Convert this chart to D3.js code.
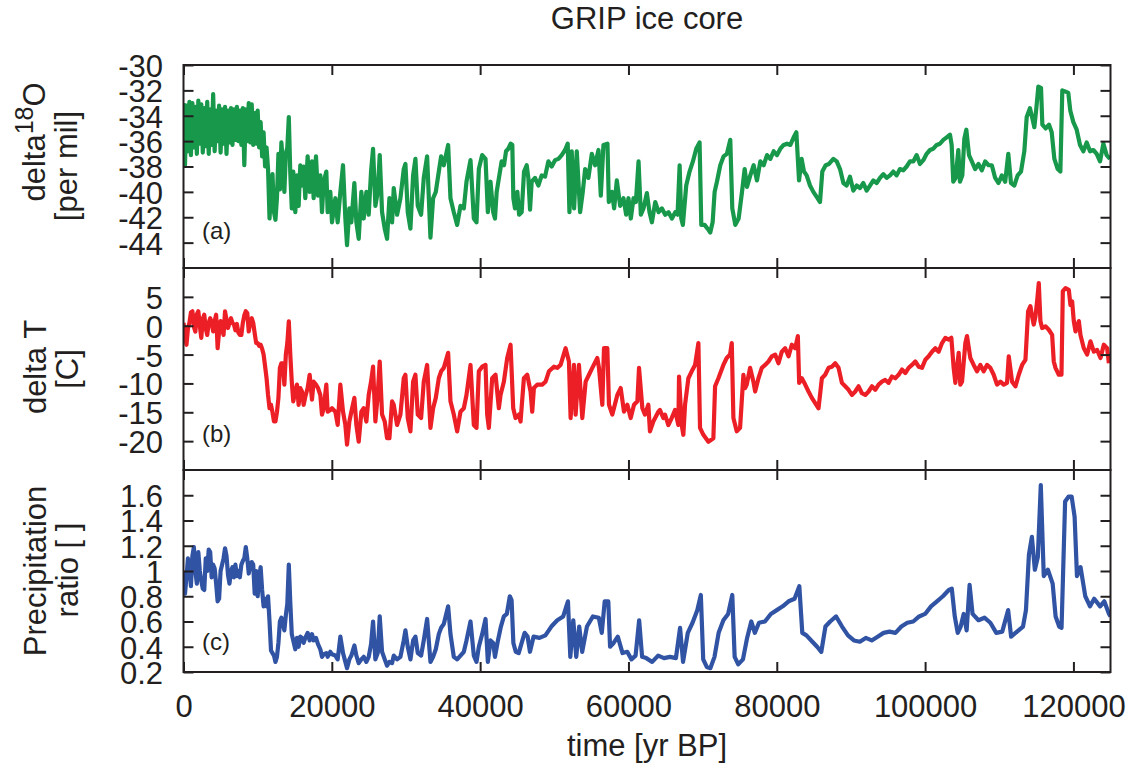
<!DOCTYPE html>
<html>
<head>
<meta charset="utf-8">
<title>GRIP ice core</title>
<script src="https://cdn.jsdelivr.net/npm/d3@7"></script>
<style>
  body { margin: 0; background: #ffffff; }
  text { font-family: "Liberation Sans", Arial, Helvetica, sans-serif; fill: #231f20; }
</style>
</head>
<body>
<svg id="chart" width="1134" height="776"></svg>
<script>
// ---------------- data ----------------
// Tick values
const xTicks = [0, 20000, 40000, 60000, 80000, 100000, 120000];
const ticksO = [-30, -32, -34, -36, -38, -40, -42, -44];
const ticksT = [5, 0, -5, -10, -15, -20];
const ticksP = [1.6, 1.4, 1.2, 1, 0.8, 0.6, 0.4, 0.2];

// Panel (a): delta 18O [per mil] vs age [yr BP]
const ageO = [
  0,200,400,600,800,1000,1200,1400,1600,1800,
  2000,2200,2400,2600,2800,3000,3200,3400,3600,3800,
  4000,4200,4400,4600,4800,5000,5200,5400,5600,5800,
  6000,6200,6400,6600,6800,7000,7200,7400,7600,7800,
  8000,8200,8400,8600,8800,9000,9200,9400,9600,9800,
  10000,10200,10400,10600,10800,11000,11200,11400,11600,11800,
  12000,12200,12400,12600,12800,13000,13200,13400,13600,13800,
  14000,14200,14400,14600,14800,
  15075,15300,15525,15750,15975,16200,16425,16740,17010,17325,
  17550,17865,18135,18450,18675,18900,19260,19440,19800,20025,
  20475,20790,21150,21510,21825,22050,22365,22635,23040,23310,
  23625,23985,24300,24660,24975,25290,25560,25875,26190,26460,
  26775,27135,27450,27765,28125,28350,28800,29250,29700,29925,
  30240,30600,30960,31275,31590,32040,32400,32850,33300,33660,
  34020,34425,34740,35100,35685,36000,36450,36900,37350,37800,
  38160,38700,39150,39510,39825,40275,40725,41040,41400,41760,
  42000,42230,42590,42900,43220,43490,43800,44120,44340,44480,
  44700,45020,45250,45600,45920,46280,46500,46730,46950,47400,
  47850,48300,48750,49200,49650,50100,50560,51000,51450,51810,
  52040,52350,52670,53030,53480,53840,54160,54600,55060,55500,
  55960,56270,56630,57170,57350,57760,58070,58430,58880,59330,
  59690,60000,60320,60680,61000,61360,61670,62030,62480,62840,
  63160,63610,64060,64500,64960,65410,65860,66310,66620,66900,
  67120,67340,67790,68240,68690,69140,69590,69820,70270,70670,
  71030,71350,71620,71930,72380,72830,73280,73730,74000,74410,
  74860,75310,75670,75980,76430,76880,77330,77780,78230,78680,
  79130,79580,80030,80480,80930,81380,81830,82280,82640,83000,
  83350,83670,84030,84480,84930,85380,85830,86140,86590,87040,
  87630,88080,88530,88980,89420,89870,90320,90770,91220,91670,
  92120,92570,93020,93470,93920,94370,94820,95270,95710,96160,
  96610,97060,97510,97960,98410,98860,99310,99760,100210,100660,
  101110,101560,102010,102460,102910,103360,103580,103800,104120,104480,
  104700,105020,105290,105560,105920,106300,106750,107200,107650,108100,
  108560,109000,109450,109900,110350,110800,111220,111580,112030,112480,
  112930,113380,113700,114140,114460,114730,115000,115270,115630,115810,
  116260,116710,117070,117430,117880,118240,118500,118950,119310,119580,
  119990,120440,120890,121340,121790,122240,122690,123140,123590,124040,
  124480,124930
];
const d18O = [
  -33.0,-37.9,-33.2,-36.8,-32.9,-37.1,-33.0,-36.5,-33.3,-37.0,
  -32.8,-36.2,-33.1,-36.9,-33.4,-36.4,-32.9,-37.0,-33.5,-36.3,
  -32.3,-36.8,-33.6,-36.0,-33.2,-36.9,-33.5,-36.2,-33.3,-37.0,
  -33.6,-36.1,-33.4,-36.3,-33.5,-35.9,-33.3,-36.0,-33.6,-36.3,
  -33.4,-37.9,-33.5,-36.0,-33.0,-36.1,-33.1,-36.3,-33.8,-36.2,
  -33.6,-36.5,-34.5,-37.2,-35.3,-38.0,-36.5,-38.2,-42.1,-40.0,
  -38.6,-41.6,-42.2,-40.5,-37.0,-39.8,-36.1,-37.8,-40.0,-37.0,
  -36.5,-34.1,-38.5,-41.3,-38.4,
  -41.6,-38.7,-41.1,-37.9,-39.5,-38.0,-40.5,-37.2,-40.0,-37.6,
  -40.5,-37.2,-40.3,-38.7,-41.6,-39.2,-38.4,-41.6,-40.0,-42.4,
  -40.5,-42.4,-40.0,-37.9,-42.1,-44.2,-41.3,-42.4,-39.3,-42.4,
  -43.7,-40.0,-42.1,-40.0,-41.8,-38.4,-36.6,-41.1,-40.0,-37.1,
  -41.6,-42.9,-43.7,-40.5,-42.4,-39.7,-41.8,-40.5,-38.2,-37.8,
  -41.6,-42.9,-38.7,-37.4,-41.1,-41.8,-38.9,-37.2,-43.6,-40.5,
  -40.0,-38.4,-37.2,-37.9,-36.3,-40.5,-41.6,-42.6,-41.1,-41.3,
  -39.2,-37.5,-42.1,-42.4,-38.2,-37.1,-37.4,-41.6,-39.2,-41.6,
  -42.1,-40.0,-38.7,-37.6,-37.9,-36.8,-36.6,-36.2,-36.3,-40.5,
  -41.3,-40.0,-41.8,-41.6,-38.4,-37.9,-38.9,-41.4,-39.2,-38.9,
  -39.5,-38.7,-38.8,-37.6,-38.0,-37.5,-37.4,-37.1,-36.7,-36.2,
  -41.6,-36.8,-41.3,-36.8,-41.6,-40.0,-38.2,-38.9,-37.0,-37.9,
  -36.7,-40.3,-36.3,-36.2,-40.8,-40.0,-41.3,-39.1,-41.1,-40.5,
  -41.8,-40.5,-42.1,-40.5,-40.8,-37.6,-41.8,-41.3,-40.1,-41.6,
  -42.4,-40.8,-41.6,-41.3,-41.8,-41.6,-42.1,-41.6,-41.8,-37.9,
  -42.1,-42.6,-39.5,-38.4,-37.6,-36.6,-36.1,-42.6,-42.6,-42.9,
  -43.2,-42.4,-40.0,-39.2,-37.9,-37.2,-37.0,-35.9,-41.3,-42.6,
  -42.1,-40.0,-38.2,-39.6,-38.7,-37.9,-39.1,-37.6,-37.9,-37.1,
  -37.4,-36.8,-37.1,-36.6,-36.3,-36.2,-36.3,-35.7,-35.3,-39.1,
  -37.4,-38.4,-38.7,-39.5,-40.0,-40.4,-40.8,-38.4,-37.9,-37.8,
  -37.4,-37.6,-38.2,-39.3,-39.5,-38.8,-39.9,-39.5,-39.7,-39.3,
  -39.9,-39.5,-39.1,-39.3,-38.9,-38.6,-38.9,-38.7,-38.4,-38.7,
  -38.2,-38.3,-38.0,-37.6,-37.6,-37.1,-37.8,-37.5,-37.0,-36.7,
  -36.6,-36.3,-36.2,-35.9,-35.7,-35.5,-36.3,-39.2,-38.9,-36.7,
  -39.2,-38.7,-35.8,-35.1,-37.1,-37.6,-38.2,-37.8,-38.3,-37.6,
  -37.9,-37.9,-38.9,-39.3,-38.7,-39.2,-37.0,-39.3,-39.5,-38.7,
  -38.4,-36.8,-34.1,-33.4,-34.2,-34.9,-33.4,-31.7,-31.8,-34.7,
  -35.0,-34.7,-35.3,-37.4,-38.2,-38.4,-32.0,-32.1,-32.2,-33.6,
  -34.5,-35.1,-36.3,-36.8,-36.1,-36.8,-36.7,-37.0,-37.6,-36.2,
  -37.1,-37.4
];

// Panel (b): temperature anomaly [C] vs age [yr BP]
const ageT = [
  0,200,400,600,800,1000,1200,1400,1600,1800,
  2000,2200,2400,2600,2800,3000,3200,3400,3600,3800,
  4000,4200,4400,4600,4800,5000,5200,5400,5600,5800,
  6000,6200,6400,6600,6800,7000,7200,7400,7600,7800,
  8000,8200,8400,8600,8800,9000,9200,9400,9600,9800,
  10000,10200,10400,10600,10800,11000,11200,11400,11600,11800,
  12000,12200,12400,12600,12800,13000,13200,13400,13600,13800,
  14000,14200,14400,14600,14800,
  15075,15300,15525,15750,15975,16200,16425,16740,17010,17325,
  17550,17865,18135,18450,18675,18900,19260,19440,19800,20025,
  20475,20790,21150,21510,21825,22050,22365,22635,23040,23310,
  23625,23985,24300,24660,24975,25290,25560,25875,26190,26460,
  26775,27135,27450,27765,28125,28350,28800,29250,29700,29925,
  30240,30600,30960,31275,31590,32040,32400,32850,33300,33660,
  34020,34425,34740,35100,35685,36000,36450,36900,37350,37800,
  38160,38700,39150,39510,39825,40275,40725,40950,41175,41625,
  42075,42525,42750,43200,43650,44100,44460,44775,45225,45450,
  45900,46350,46800,47025,47250,47700,48375,48825,49275,49950,
  50400,50850,51525,51975,52200,52650,52875,53325,53775,54225,
  54675,55125,55800,56025,56475,56700,57150,57375,57825,58500,
  58950,59400,59850,60300,60750,61200,61425,61875,62228,62680,
  62900,63350,64030,64250,64700,64930,65380,65830,66280,66730,
  66820,67180,67400,67630,68080,68530,68980,69430,69650,70100,
  70780,71450,71680,72130,72800,73250,73700,73930,74150,74600,
  75050,75500,75730,75950,76400,76850,77080,77530,77980,78430,
  78880,79330,79780,80230,80680,81130,81580,82030,82480,82840,
  83020,83380,83830,84280,84730,85180,85630,86080,86530,86980,
  87430,87880,88330,88780,89230,89680,90130,90580,91030,91480,
  91930,92380,92830,93280,93730,94180,94630,95080,95530,95980,
  96430,96880,97330,97780,98230,98680,99130,99580,100030,100480,
  100930,101380,101830,102280,102730,103180,103540,103850,104080,104530,
  104750,104980,105430,105650,106100,106550,107000,107450,107900,108350,
  108800,109250,109700,110150,110600,111050,111280,111730,112180,112630,
  113080,113530,113890,114200,114430,114650,114880,115100,115330,115550,
  115780,116230,116680,117130,117350,117580,118030,118390,118570,118930,
  119380,119600,119830,120050,120280,120730,120950,121400,121850,122300,
  122750,123200,123650,124100,124550,124780
];
const deltaT = [
  0.5,-1.5,-3.3,-0.5,0.5,2.3,2.5,-0.2,-1.0,2.0,
  2.5,0.0,-2.1,1.2,1.9,-0.5,-1.6,0.5,1.3,0.5,
  -1.0,0.8,1.9,-3.9,-1.0,0.8,-0.5,-1.6,2.5,1.0,
  -0.4,0.5,1.3,0.5,0.2,-0.8,0.3,-1.2,-1.6,-1.6,
  0.5,1.8,2.5,2.2,-1.0,0.5,1.3,0.5,-1.3,-3.0,
  -3.0,-3.5,-3.3,-4.0,-5.0,-7.0,-9.1,-12.0,-14.3,-13.7,
  -15.0,-16.6,-16.6,-15.0,-12.5,-7.3,-6.5,-6.5,-10.2,-5.0,
  -3.0,0.75,-5.0,-9.7,-13.1,
  -11.4,-10.2,-13.7,-10.8,-11.4,-13.7,-12.3,-10.8,-8.5,-12.8,
  -9.7,-10.2,-10.8,-12.0,-15.4,-14.3,-10.2,-14.9,-14.6,-14.3,
  -14.9,-17.2,-10.2,-14.9,-17.2,-20.6,-16.6,-14.9,-12.5,-17.2,
  -20.1,-14.9,-14.3,-16.6,-12.0,-9.7,-7.1,-16.6,-12.0,-6.2,
  -15.4,-16.6,-19.5,-19.5,-13.1,-13.7,-17.2,-15.4,-9.1,-8.5,
  -16.0,-18.3,-9.7,-8.5,-15.4,-16.0,-9.7,-6.8,-17.7,-14.3,
  -12.5,-9.1,-7.9,-7.3,-4.7,-13.1,-15.4,-18.3,-14.9,-14.3,
  -12.0,-6.8,-17.2,-17.7,-7.9,-7.1,-6.8,-15.4,-17.7,-9.1,
  -8.5,-14.3,-12.0,-9.7,-5.6,-3.3,-14.3,-16.0,-15.4,-16.6,
  -9.1,-8.5,-11.4,-14.9,-10.8,-10.2,-10.2,-9.7,-7.9,-7.1,
  -7.3,-6.8,-3.9,-6.2,-16.0,-6.8,-15.4,-6.8,-16.0,-9.7,
  -8.5,-7.3,-5.6,-7.3,-13.7,-3.9,-3.9,-13.7,-15.4,-12.0,
  -10.8,-14.9,-13.7,-16.0,-13.7,-13.1,-7.3,-14.3,-15.4,-13.7,
  -18.3,-16.6,-14.9,-14.6,-16.0,-15.4,-17.2,-16.0,-14.6,-17.2,
  -8.8,-17.2,-18.9,-13.7,-9.1,-7.9,-6.8,-3.0,-17.7,-18.9,
  -20.1,-19.5,-10.5,-9.1,-6.8,-5.6,-5.0,-3.0,-16.0,-18.3,
  -17.7,-8.5,-10.8,-10.2,-7.3,-9.7,-11.4,-9.1,-7.3,-6.8,
  -6.2,-5.3,-5.0,-6.5,-4.5,-3.9,-5.3,-3.3,-3.9,-1.8,
  -9.9,-9.1,-10.2,-11.4,-12.5,-13.4,-14.3,-9.1,-8.5,-7.3,
  -7.1,-6.5,-7.3,-9.9,-10.5,-11.1,-12.0,-11.4,-10.5,-11.7,
  -12.0,-11.4,-10.5,-11.1,-10.2,-9.7,-9.4,-9.9,-8.8,-9.1,
  -8.5,-7.6,-8.2,-7.3,-6.8,-6.2,-7.1,-7.3,-5.9,-5.3,
  -4.5,-3.9,-4.5,-3.0,-2.1,-2.4,-2.1,-7.3,-9.9,-4.7,
  -10.2,-9.7,-3.0,-1.8,-5.6,-6.8,-7.9,-6.8,-7.9,-6.8,
  -7.3,-8.5,-10.2,-9.7,-10.2,-9.9,-5.3,-9.7,-10.5,-8.5,
  -6.8,-5.9,2.5,3.4,1.6,0.2,1.6,4.2,7.4,0.8,
  -0.4,-0.1,-0.7,-1.6,-6.2,-7.3,-8.5,-8.5,6.0,6.5,
  6.2,3.6,4.2,0.8,-1.0,0.8,-1.6,-3.9,-5.0,-2.7,
  -4.5,-4.2,-5.6,-3.3,-3.9,-6.5
];

// Panel (c): precipitation ratio [ ] vs age [yr BP]
const ageP = [
  0,200,400,600,800,1000,1200,1400,1600,1800,
  2000,2200,2400,2600,2800,3000,3200,3400,3600,3800,
  4000,4200,4400,4600,4800,5000,5200,5400,5600,5800,
  6000,6200,6400,6600,6800,7000,7200,7400,7600,7800,
  8000,8200,8400,8600,8800,9000,9200,9400,9600,9800,
  10000,10200,10400,10600,10800,11000,11200,11400,11600,11800,
  12000,12200,12400,12600,12800,13000,13200,13400,13600,13800,
  14000,14200,14400,14600,14800,
  15075,15300,15525,15750,15975,16200,16425,16740,17010,17325,
  17550,17865,18135,18450,18675,18900,19260,19440,19800,20025,
  20475,20790,21150,21510,21825,22050,22365,22635,23040,23310,
  23625,23985,24300,24660,24975,25290,25560,25875,26190,26460,
  26775,27135,27450,27765,28125,28350,28800,29250,29700,29925,
  30240,30600,30960,31275,31590,32040,32400,32850,33300,33660,
  34020,34425,34740,35100,35685,36000,36450,36900,37350,37800,
  38160,38700,39150,39510,39825,40275,40725,41040,41400,41760,
  42000,42400,42800,43200,43600,44000,44240,44480,44800,45200,
  45600,46000,46400,46720,47200,48000,48800,49600,50400,51200,
  51840,52160,52560,52960,53360,53760,54400,55200,56000,56400,
  56800,57280,57520,58000,58560,59200,59840,60400,60960,61440,
  61840,62400,63200,64000,64800,65600,66400,66960,67360,68000,
  68640,69280,69760,70080,70560,71040,71600,72160,72800,73440,
  74000,74320,74800,75440,76000,76560,77040,77600,78400,79200,
  80000,80800,81600,82400,83040,83440,84000,84800,85440,86000,
  86560,87200,88000,88800,89600,90400,91200,92000,92800,93600,
  94400,95200,96000,96800,97600,98400,99200,100000,100800,101600,
  102400,103200,103600,104000,104400,104800,105200,105600,106000,106400,
  107200,108000,108800,109600,110400,111200,111600,112400,113200,113600,
  114000,114400,114800,115200,115600,116000,116560,117200,117600,118080,
  118400,118880,119360,119760,120160,120480,120960,121600,122240,122800,
  123600,124160,124800,125000
];
const precip = [
  1.0,0.82,0.95,1.1,1.05,0.88,1.12,1.19,1.0,0.9,
  1.15,1.0,0.92,0.86,0.85,1.1,1.0,1.17,1.15,0.95,
  1.05,1.02,0.9,0.76,0.78,1.0,1.05,1.1,1.18,1.12,
  0.97,0.9,1.0,1.03,0.95,1.05,0.96,1.0,0.95,1.05,
  1.08,1.1,1.19,1.1,0.98,1.05,1.07,1.05,0.82,1.0,
  0.8,0.95,1.03,0.85,0.72,0.78,0.72,0.8,0.6,0.37,
  0.35,0.33,0.28,0.32,0.43,0.6,0.63,0.58,0.53,0.65,
  0.74,1.05,0.75,0.5,0.45,
  0.38,0.47,0.40,0.48,0.47,0.43,0.47,0.51,0.45,0.50,
  0.45,0.47,0.42,0.38,0.32,0.34,0.35,0.32,0.36,0.34,
  0.33,0.30,0.48,0.35,0.28,0.23,0.30,0.33,0.41,0.33,
  0.27,0.30,0.32,0.28,0.32,0.42,0.60,0.30,0.35,0.64,
  0.36,0.30,0.25,0.28,0.27,0.33,0.30,0.32,0.45,0.53,
  0.40,0.30,0.45,0.48,0.35,0.33,0.45,0.62,0.28,0.32,
  0.38,0.50,0.55,0.58,0.72,0.50,0.32,0.30,0.33,0.36,
  0.45,0.60,0.33,0.28,0.40,0.50,0.62,0.28,0.45,0.43,
  0.32,0.45,0.56,0.64,0.66,0.80,0.77,0.43,0.36,0.35,
  0.43,0.51,0.48,0.36,0.48,0.47,0.49,0.56,0.61,0.64,
  0.76,0.32,0.61,0.32,0.56,0.36,0.56,0.64,0.63,0.51,
  0.76,0.76,0.40,0.43,0.48,0.35,0.36,0.30,0.33,0.61,
  0.32,0.31,0.28,0.33,0.31,0.32,0.31,0.55,0.28,0.51,
  0.59,0.69,0.81,0.30,0.24,0.23,0.32,0.51,0.61,0.66,
  0.81,0.32,0.26,0.30,0.47,0.60,0.51,0.59,0.60,0.66,
  0.69,0.72,0.76,0.78,0.88,0.51,0.49,0.44,0.40,0.36,
  0.56,0.60,0.64,0.56,0.49,0.45,0.44,0.47,0.45,0.48,
  0.51,0.52,0.51,0.56,0.59,0.60,0.64,0.66,0.72,0.76,
  0.80,0.85,0.86,0.64,0.51,0.56,0.66,0.53,0.89,0.66,
  0.61,0.63,0.59,0.51,0.52,0.69,0.48,0.52,0.56,0.69,
  1.13,1.27,1.01,1.11,1.68,0.96,1.01,0.90,0.64,0.56,
  0.55,1.55,1.59,1.59,1.43,0.96,1.03,0.80,0.72,0.78,
  0.72,0.76,0.66,0.64
];

// ---------------- layout ----------------
const svg = d3.select("#chart");
const FONT = 31;
const plotLeft = 183.5, plotRight = 1110.5;
const panels = [
  { key: "a", top: 65,  bottom: 268, domain: [-46, -30], ticks: ticksO, age: ageO, vals: d18O,   color: "#17984a", tag: "(a)", tagY: 239 },
  { key: "b", top: 268, bottom: 470, domain: [-25, 10],  ticks: ticksT, age: ageT, vals: deltaT, color: "#ec1f26", tag: "(b)", tagY: 442 },
  { key: "c", top: 470, bottom: 672, domain: [0.2, 1.8], ticks: ticksP, age: ageP, vals: precip, color: "#3153a4", tag: "(c)", tagY: 650 }
];

const x = d3.scaleLinear().domain([0, 125000]).range([plotLeft, plotRight]);

function styleAxis(g, showText) {
  g.attr("font-family", '"Liberation Sans", Arial, Helvetica, sans-serif')
   .attr("font-size", FONT)
   .attr("color", "#231f20");
  g.select(".domain").remove();
  g.selectAll(".tick line").attr("stroke-width", 2);
  if (!showText) g.selectAll(".tick text").remove();
}

panels.forEach(p => {
  const y = d3.scaleLinear().domain(p.domain).range([p.bottom, p.top]);
  p.y = y;

  const clipId = "clip-" + p.key;
  svg.append("clipPath").attr("id", clipId)
    .append("rect")
    .attr("x", plotLeft).attr("y", p.top)
    .attr("width", plotRight - plotLeft).attr("height", p.bottom - p.top);

  // data line
  const series = p.age.map((a, i) => [a, p.vals[i]]);
  svg.append("path")
    .datum(series)
    .attr("clip-path", `url(#${clipId})`)
    .attr("fill", "none")
    .attr("stroke", p.color)
    .attr("stroke-width", 4.2)
    .attr("stroke-linejoin", "round")
    .attr("d", d3.line().x(d => x(d[0])).y(d => y(d[1])));

  // y axes (left with labels, right mirrored ticks)
  const gl = svg.append("g").attr("transform", `translate(${plotLeft},0)`)
    .call(d3.axisLeft(y).tickValues(p.ticks).tickSize(-10).tickPadding(20.5).tickFormat(d => String(d)));
  styleAxis(gl, true);
  gl.selectAll(".tick text").attr("dy", "0.37em");

  const gr = svg.append("g").attr("transform", `translate(${plotRight},0)`)
    .call(d3.axisRight(y).tickValues(p.ticks).tickSize(-10));
  styleAxis(gr, false);

  // x axes (top and bottom ticks on every panel)
  const gt = svg.append("g").attr("transform", `translate(0,${p.top})`)
    .call(d3.axisTop(x).tickValues(xTicks).tickSize(-10));
  styleAxis(gt, false);

  const gb = svg.append("g").attr("transform", `translate(0,${p.bottom})`)
    .call(d3.axisBottom(x).tickValues(xTicks).tickSize(-10).tickPadding(23).tickFormat(d => String(d)));
  styleAxis(gb, p.key === "c");

  // frame
  svg.append("rect")
    .attr("x", plotLeft).attr("y", p.top)
    .attr("width", plotRight - plotLeft).attr("height", p.bottom - p.top)
    .attr("fill", "none").attr("stroke", "#231f20").attr("stroke-width", 2);

  // panel tag
  svg.append("text")
    .attr("x", 202).attr("y", p.tagY)
    .attr("font-size", 24)
    .text(p.tag);
});

// title
svg.append("text")
  .attr("x", 647).attr("y", 28.5)
  .attr("text-anchor", "middle")
  .attr("font-size", 31)
  .text("GRIP ice core");

// x-axis label
svg.append("text")
  .attr("x", 647).attr("y", 756)
  .attr("text-anchor", "middle")
  .attr("font-size", FONT)
  .text("time [yr BP]");

// y-axis labels (two rotated lines each)
function yLabel(xPos, yPos, build) {
  const t = svg.append("text")
    .attr("transform", `translate(${xPos},${yPos}) rotate(-90)`)
    .attr("text-anchor", "middle")
    .attr("font-size", FONT);
  build(t);
}
yLabel(45, 142, t => {
  t.append("tspan").text("delta");
  t.append("tspan").attr("font-size", 25).attr("dy", -12).text("18");
  t.append("tspan").attr("dy", 12).text("O");
});
yLabel(77, 166, t => t.text("[per mil]"));
yLabel(46, 367, t => t.text("delta T"));
yLabel(78, 369, t => t.text("[C]"));
yLabel(46, 571, t => t.text("Precipitation"));
yLabel(78, 570, t => t.text("ratio [ ]"));
</script>
</body>
</html>
